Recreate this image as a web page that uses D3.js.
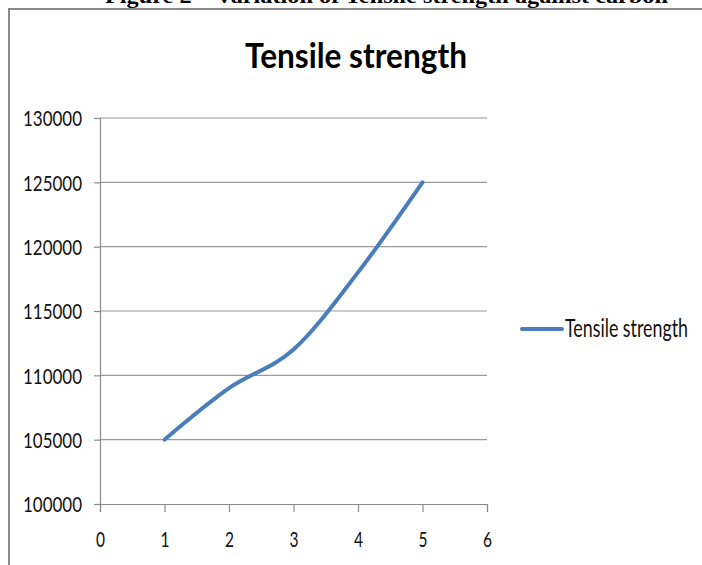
<!DOCTYPE html>
<html>
<head>
<meta charset="utf-8">
<script src="https://cdn.jsdelivr.net/npm/d3@7"></script>
<style>
  body { margin: 0; background: white; }
</style>
</head>
<body>
<div id="chart"></div>
<script>
// data
var carbon = [1, 2, 3, 4, 5];
var strength = [105000, 109000, 112000, 118000, 125000];
var xTicks = [0, 1, 2, 3, 4, 5, 6];
var yTicks = [100000, 105000, 110000, 115000, 120000, 125000, 130000];
var seriesName = "Tensile strength";
var chartTitle = "Tensile strength";
var caption = "Figure 2 \u2013 Variation of Tensile strength against carbon";

var width = 702;
var height = 565;
var blue = "#4a7ebb";
var sans = "Lato, 'Open Sans', sans-serif";

var svg = d3.select("#chart")
            .append("svg")
            .attr("width", width)
            .attr("height", height);

// caption of the page, mostly cut off at the top
svg.append("text")
    .attr("x", 105)
    .attr("y", 3)
    .attr("textLength", 563)
    .attr("lengthAdjust", "spacingAndGlyphs")
    .style("font-family", "'Liberation Serif', 'Times New Roman', serif")
    .style("font-weight", "bold")
    .style("font-size", "22px")
    .text(caption);

// chart frame (only left and top edges show)
svg.append("path")
    .attr("d", "M9,565 L9,9 L702,9")
    .attr("fill", "none")
    .attr("stroke", "#8a8a8a")
    .attr("stroke-width", 2);

var x = d3.scaleLinear().domain([0, 6]).range([100, 487]);
var y = d3.scaleLinear().domain([100000, 130000]).range([504, 118]);

// gridlines
svg.append("g")
    .selectAll("line")
    .data(yTicks.slice(1))
    .join("line")
    .attr("x1", x(0))
    .attr("x2", x(6))
    .attr("y1", d => y(d))
    .attr("y2", d => y(d))
    .attr("stroke", "#9a9a9a")
    .attr("stroke-width", 1.2);

// y axis
var yAxis = svg.append("g")
    .attr("transform", "translate(" + x(0) + ",0)")
    .call(d3.axisLeft(y).tickValues(yTicks).tickSize(6).tickPadding(12).tickFormat(d3.format("d")));
yAxis.select(".domain").attr("stroke", "#8a8a8a").attr("stroke-width", 1.2);
yAxis.selectAll(".tick line").attr("stroke", "#8a8a8a").attr("stroke-width", 1.2);
yAxis.selectAll(".tick text")
    .attr("dy", "0.36em")
    .attr("textLength", 59)
    .attr("lengthAdjust", "spacingAndGlyphs")
    .style("font-family", sans)
    .style("font-size", "22px")
    .attr("fill", "#111");

// x axis
var xAxis = svg.append("g")
    .attr("transform", "translate(0," + y(100000) + ")")
    .call(d3.axisBottom(x).tickValues(xTicks).tickSize(8).tickFormat(d3.format("d")));
xAxis.select(".domain").attr("stroke", "#8a8a8a").attr("stroke-width", 1.2);
xAxis.selectAll(".tick line").attr("stroke", "#8a8a8a").attr("stroke-width", 1.2);
xAxis.selectAll(".tick text")
    .attr("y", 43)
    .attr("dy", 0)
    .attr("textLength", 9)
    .attr("lengthAdjust", "spacingAndGlyphs")
    .style("font-family", sans)
    .style("font-size", "21px")
    .attr("fill", "#111");

// the smoothed series line
var line = d3.line()
    .x((d, i) => x(carbon[i]))
    .y(d => y(d))
    .curve(d3.curveCardinal.tension(0));

svg.append("path")
    .datum(strength)
    .attr("d", line)
    .attr("fill", "none")
    .attr("stroke", blue)
    .attr("stroke-width", 4)
    .attr("stroke-linecap", "round");

// title
svg.append("text")
    .attr("x", 245)
    .attr("y", 68)
    .attr("textLength", 222)
    .attr("lengthAdjust", "spacingAndGlyphs")
    .style("font-family", sans)
    .style("font-weight", "bold")
    .style("font-size", "35px")
    .text(chartTitle);

// legend
svg.append("line")
    .attr("x1", 522)
    .attr("x2", 562)
    .attr("y1", 329)
    .attr("y2", 329)
    .attr("stroke", blue)
    .attr("stroke-width", 4)
    .attr("stroke-linecap", "round");

svg.append("text")
    .attr("x", 565)
    .attr("y", 337)
    .attr("textLength", 123)
    .attr("lengthAdjust", "spacingAndGlyphs")
    .style("font-family", sans)
    .style("font-size", "25px")
    .attr("fill", "#111")
    .text(seriesName);
</script>
</body>
</html>
